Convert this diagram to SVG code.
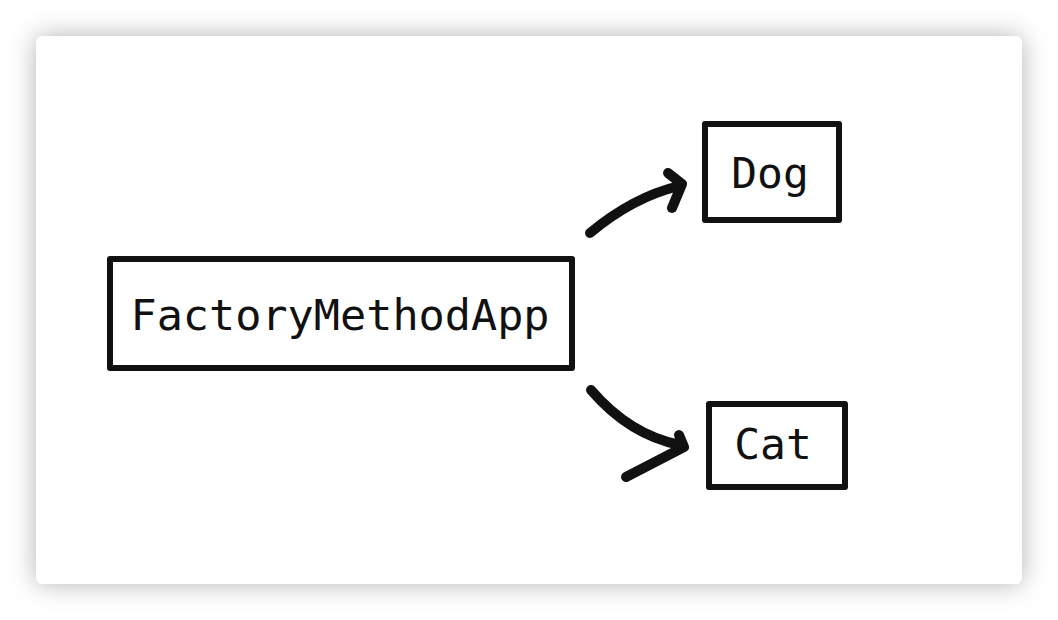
<svg xmlns="http://www.w3.org/2000/svg" width="1058" height="620" viewBox="0 0 1058 620">
<defs>
<filter id="sh" x="-10%" y="-10%" width="120%" height="120%">
<feDropShadow dx="0" dy="0" stdDeviation="13" flood-color="#000" flood-opacity="0.3"/>
</filter>
<style>
.box{fill:#fff;stroke:#111;stroke-width:6;stroke-linejoin:round}
.lbl{font-family:"DejaVu Sans Mono","Liberation Mono",monospace;fill:#111;text-anchor:middle}
.arr{fill:none;stroke:#111;stroke-width:10;stroke-linecap:round;stroke-linejoin:round}
</style>
</defs>
<rect x="0" y="0" width="1058" height="620" fill="#fff"/>
<rect x="36" y="36" width="986" height="548" rx="7" fill="#fff" filter="url(#sh)"/>
<g id="node-app">
<rect class="box" x="110" y="259" width="462" height="109"/>
<text class="lbl" x="340" y="330" font-size="43.5">FactoryMethodApp</text>
</g>
<g id="node-dog">
<rect class="box" x="705" y="124" width="134" height="96"/>
<text class="lbl" x="770" y="188" font-size="43">Dog</text>
</g>
<g id="node-cat">
<rect class="box" x="709" y="404" width="136" height="83"/>
<text class="lbl" x="773" y="459" font-size="43">Cat</text>
</g>
<g id="connectors">
<path class="arr" d="M590,233 C620,208 650,193 679,186"/>
<path class="arr" d="M668,173 L682,184 L672,208"/>
<path class="arr" d="M591,390 C615,418 645,438 680,445"/>
<path class="arr" d="M679,435 L684,447 L626,477"/>
</g>
</svg>
